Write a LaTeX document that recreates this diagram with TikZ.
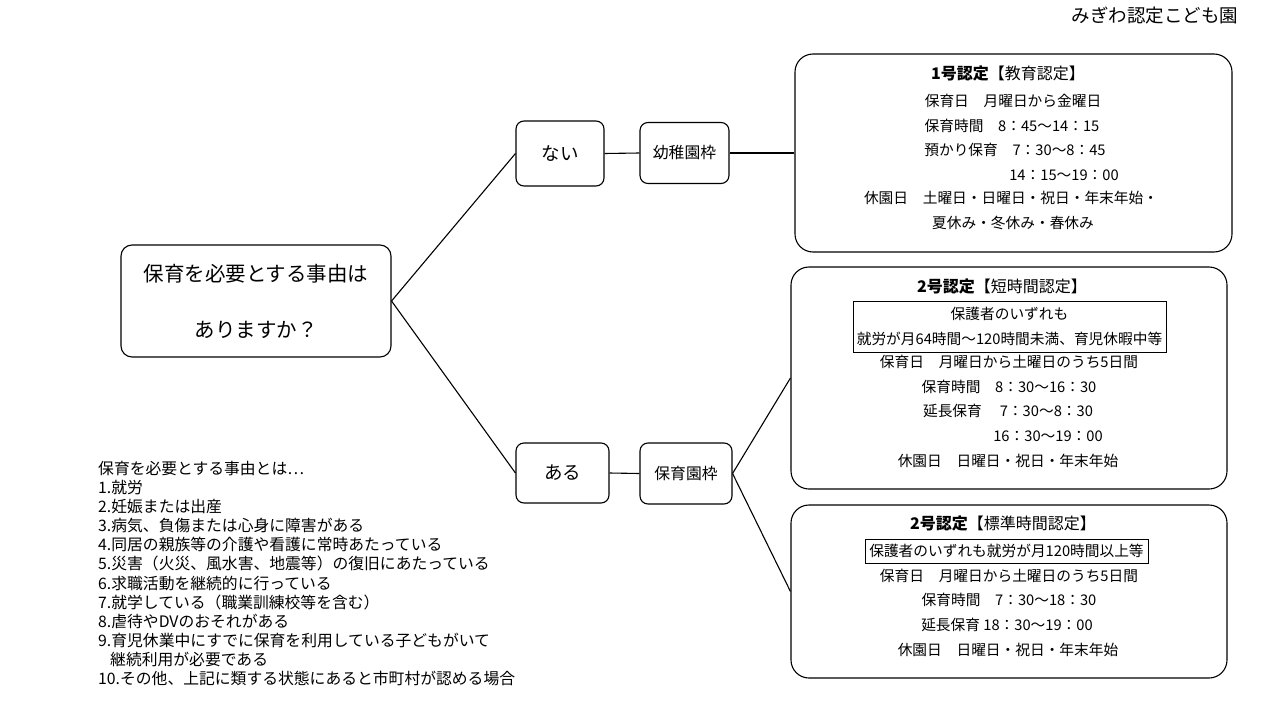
\documentclass[tikz,border=0pt]{standalone}
\usepackage{fontspec}
\setmainfont{Noto Sans CJK JP}
\begin{document}
\begin{tikzpicture}[x=1pt,y=-1pt,-]
            \tikzstyle{box}=[draw=black,line width=1.1pt,rounded corners=8pt,inner sep=0pt]
            \tikzstyle{card}=[box,rounded corners=18pt]
            \tikzstyle{line}=[inner sep=0pt,text height=12pt,text depth=1.5pt,font=\fontsize{14.7}{17}\selectfont]
            \tikzstyle{head}=[line,text height=13pt,font=\fontsize{16}{19}\selectfont]
            \tikzstyle{frame}=[draw=black,line width=0.9pt,inner sep=0pt,font=\fontsize{14.7}{25}\selectfont]
                \useasboundingbox (0,0) rectangle (1280,720);

                \node[line,font=\fontsize{18.5}{20}\selectfont] (title) at (1155,17.5){みぎわ認定こども園};

                \node[box,rounded corners=11pt,minimum width=270,minimum height=112,align=center,
                      font=\fontsize{20.5}{56}\selectfont] (Q) at (256,301){保育を必要とする事由は\\ありますか？};

                \node[box,minimum width=88,minimum height=65,font=\fontsize{18.5}{20}\selectfont] (nai) at (560,153.5){ない};
                \node[box,minimum width=89,minimum height=61,font=\fontsize{15.8}{18}\selectfont] (yochien) at (684.5,153){幼稚園枠};
                \node[box,minimum width=93,minimum height=60,font=\fontsize{18.5}{20}\selectfont] (aru) at (562.5,473){ある};
                \node[box,minimum width=92,minimum height=61,font=\fontsize{15.8}{18}\selectfont] (hoikuen) at (686,473.5){保育園枠};

                \node[card,minimum width=437,minimum height=198] (K) at (1013.5,153){};
                \node[card,minimum width=436,minimum height=222] (S) at (1009,378){};
                \node[card,minimum width=436,minimum height=173] (H) at (1009,591.5){};

                \foreach \from/\to in {Q.east/nai.west, Q.east/aru.west, nai.east/yochien.west, yochien.east/K.west,
                                       aru.east/hoikuen.west, hoikuen.east/S.west, hoikuen.east/H.west}
                    \draw[line width=1.1pt] (\from) -- (\to);

                % 1号認定
                \node[head] (K-0) at (1008,74){\textbf{1号認定}【教育認定】};
                \node[line] (K-1) at (1013,101){保育日　月曜日から金曜日};
                \node[line] (K-2) at (1012,126){保育時間　8：45～14：15};
                \node[line] (K-3) at (1015,150){預かり保育　7：30～8：45};
                \node[line] (K-4) at (1064,175){14：15～19：00};
                \node[line] (K-5) at (1011,198){休園日　土曜日・日曜日・祝日・年末年始・};
                \node[line] (K-6) at (1013,223){夏休み・冬休み・春休み};

                % 2号認定 短時間
                \node[head] (S-0) at (1002,287){\textbf{2号認定}【短時間認定】};
                \node[frame,minimum width=313,minimum height=51,align=center] (S-1) at (1009.5,326.5){保護者のいずれも\\就労が月64時間～120時間未満、育児休暇中等};
                \node[line] (S-2) at (1009,362){保育日　月曜日から土曜日のうち5日間};
                \node[line] (S-3) at (1009,387){保育時間　8：30～16：30};
                \node[line] (S-4) at (1008,411){延長保育　 7：30～8：30};
                \node[line] (S-5) at (1048,436){16：30～19：00};
                \node[line] (S-6) at (1008,461){休園日　日曜日・祝日・年末年始};

                % 2号認定 標準時間
                \node[head] (H-0) at (1003,524){\textbf{2号認定}【標準時間認定】};
                \node[frame,line,minimum width=283,minimum height=24] (H-1) at (1006.5,551){保護者のいずれも就労が月120時間以上等};
                \node[line] (H-2) at (1009,576){保育日　月曜日から土曜日のうち5日間};
                \node[line] (H-3) at (1009,600){保育時間　7：30～18：30};
                \node[line] (H-4) at (1007,625){延長保育 18：30～19：00};
                \node[line] (H-5) at (1008,650){休園日　日曜日・祝日・年末年始};

                \node[anchor=north west,align=left,inner sep=0pt,font=\fontsize{15.8}{19.1}\selectfont] (why) at (98,461){%
                    保育を必要とする事由とは…\\
                    1.就労\\
                    2.妊娠または出産\\
                    3.病気、負傷または心身に障害がある\\
                    4.同居の親族等の介護や看護に常時あたっている\\
                    5.災害（火災、風水害、地震等）の復旧にあたっている\\
                    6.求職活動を継続的に行っている\\
                    7.就学している（職業訓練校等を含む）\\
                    8.虐待やDVのおそれがある\\
                    9.育児休業中にすでに保育を利用している子どもがいて\\
                    \hspace*{12pt}継続利用が必要である\\
                    10.その他、上記に類する状態にあると市町村が認める場合};
        \end{tikzpicture}
\end{document}
